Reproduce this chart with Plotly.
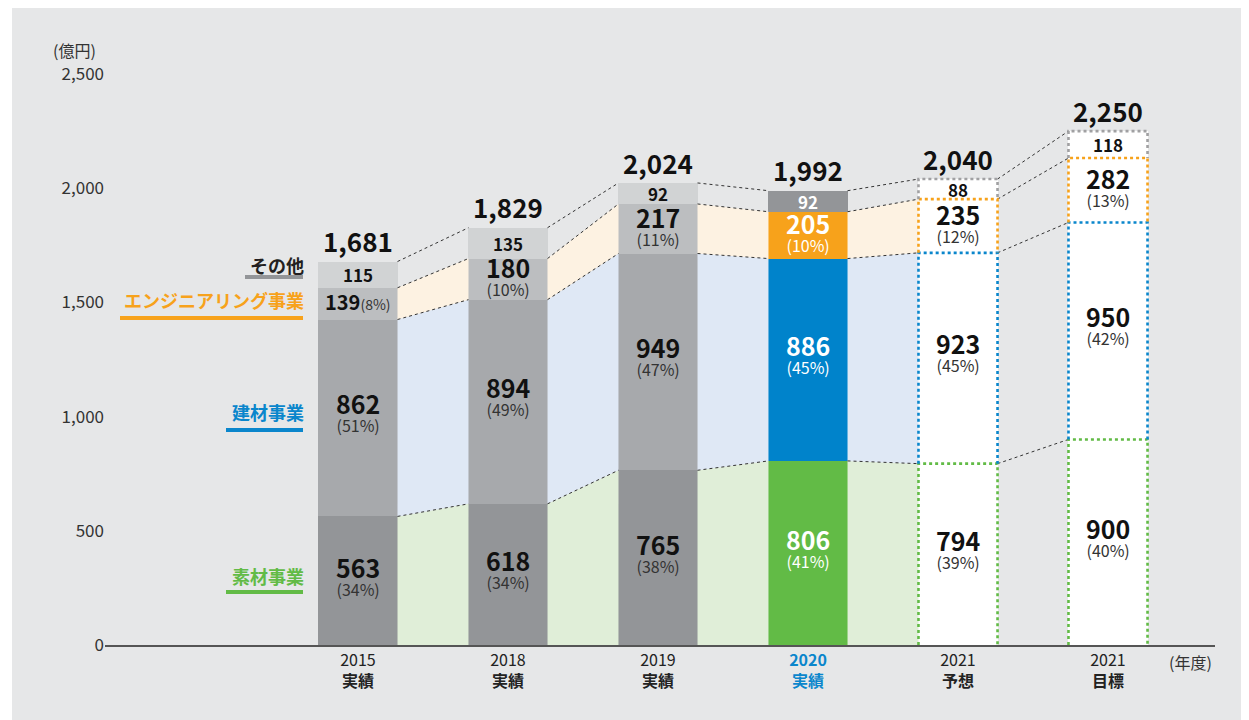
import plotly.graph_objects as go

# ---------------- data ----------------
years = ["2015", "2018", "2019", "2020", "2021", "2021"]
kinds = ["実績", "実績", "実績", "実績", "予想", "目標"]
sozai = [563, 618, 765, 806, 794, 900]          # 素材事業
kenzai = [862, 894, 949, 886, 923, 950]         # 建材事業
engi = [139, 180, 217, 205, 235, 282]           # エンジニアリング事業
other = [115, 135, 92, 92, 88, 118]             # その他
totals = [1681, 1829, 2024, 1992, 2040, 2250]
sozai_pct = [34, 34, 38, 41, 39, 40]
kenzai_pct = [51, 49, 47, 45, 45, 42]
engi_pct = [8, 10, 11, 10, 12, 13]
bar_type = ["past", "past", "past", "current", "plan", "plan"]
ytick_vals = [0, 500, 1000, 1500, 2000, 2500]
ytick_text = ["0", "500", "1,000", "1,500", "2,000", "2,500"]

# ---------------- style ----------------
FONT = "Noto Sans CJK JP"
PANEL = "#e6e7e8"
seg_names = ["素材事業", "建材事業", "エンジニアリング事業", "その他"]
seg_vals = [sozai, kenzai, engi, other]
gray_cols = ["#939598", "#a7a9ac", "#bcbec0", "#d1d3d4"]
main_cols = ["#62bb46", "#0083cb", "#f7a21b", "#939598"]
dot_cols = ["#62bb46", "#0a86cc", "#f7a21b", "#a0a0a2"]
band_cols = ["#e0eed8", "#dfe8f5", "#fdf2e2"]
label_shift = [6, 7, 4]
W = 0.527
xs = list(range(len(years)))

# page body has an 8px margin; geometry below is in screen pixels
OFF = 8
FW, FH = 1249 - OFF, 720 - OFF
L, R = 105 - OFF, 1249 - 1215
T, B = 74 - OFF, 720 - 645
PW, PH = FW - L - R, FH - T - B


def px(x):
    return (x - OFF - L) / PW


def py(y):
    return (FH - B - (y - OFF)) / PH


def seg_color(i, s):
    t = bar_type[i]
    if t == "past":
        return gray_cols[s]
    if t == "current":
        return main_cols[s]
    return "#ffffff"


# cumulative bottoms/tops
bottoms, tops = [], []
for s in range(4):
    b = [sum(seg_vals[k][i] for k in range(s)) for i in xs]
    bottoms.append(b)
    tops.append([b[i] + seg_vals[s][i] for i in xs])

fig = go.Figure()

# bands between bars
for g in range(len(xs) - 2):
    x0, x1 = xs[g] + W / 2, xs[g + 1] - W / 2
    for s in range(3):
        fig.add_trace(go.Scatter(
            x=[x0, x1, x1, x0, x0],
            y=[bottoms[s][g], bottoms[s][g + 1], tops[s][g + 1], tops[s][g], bottoms[s][g]],
            fill="toself", fillcolor=band_cols[s], mode="none",
            hoverinfo="skip", showlegend=False))

# bars
for s in range(4):
    fig.add_trace(go.Bar(
        x=xs, y=seg_vals[s], width=W, name=seg_names[s],
        marker=dict(color=[seg_color(i, s) for i in xs], line=dict(width=0)),
        showlegend=False, hoverinfo="skip"))

# dotted connector lines
for g in range(len(xs) - 1):
    x0, x1 = xs[g] + W / 2, xs[g + 1] - W / 2
    for s in range(4):
        fig.add_trace(go.Scatter(
            x=[x0, x1], y=[tops[s][g], tops[s][g + 1]], mode="lines",
            line=dict(color="#333333", width=1, dash="dot"),
            hoverinfo="skip", showlegend=False))

shapes = []
# gray panel background
shapes.append(dict(type="rect", xref="paper", yref="paper", layer="below",
                   x0=px(12), x1=px(1249), y0=py(720), y1=py(8),
                   fillcolor=PANEL, line=dict(width=0)))

# dotted borders for plan bars
for i in xs:
    if bar_type[i] != "plan":
        continue
    x0, x1 = xs[i] - W / 2, xs[i] + W / 2
    for s in range(4):
        y0, y1 = bottoms[s][i], tops[s][i]
        shapes.append(dict(type="path", xref="x", yref="y",
                           path=f"M {x0},{y0} L {x0},{y1} L {x1},{y1} L {x1},{y0}",
                           line=dict(color=dot_cols[s], width=2.6, dash="dot")))

# legend labels on the left with underline bars
legend_items = [
    ("その他", "#231f20", 265, 245, 277, "#939598"),
    ("エンジニアリング事業", "#f7a21b", 300, 120, 318, "#f7a21b"),
    ("建材事業", "#0a86cc", 412, 226, 430, "#0a86cc"),
    ("素材事業", "#62bb46", 576, 226, 592, "#62bb46"),
]
annotations = []
for txt, col, ty, ux0, uy, ucol in legend_items:
    annotations.append(dict(text=f"<b>{txt}</b>", xref="paper", yref="paper",
                            x=px(305), y=py(ty), xanchor="right", yanchor="middle",
                            showarrow=False, borderpad=0,
                            font=dict(family=FONT, size=18, color=col)))
    shapes.append(dict(type="rect", xref="paper", yref="paper",
                       x0=px(ux0), x1=px(303), y0=py(uy + 2), y1=py(uy - 2),
                       fillcolor=ucol, line=dict(width=0)))

# value labels
pcts = [sozai_pct, kenzai_pct, engi_pct]
for i in xs:
    t = bar_type[i]
    vcol = "#ffffff" if t == "current" else "#111111"
    pcol = "#ffffff" if t == "current" else "#333333"
    for s in range(3):
        mid = (bottoms[s][i] + tops[s][i]) / 2
        if s == 2 and seg_vals[s][i] < 150:
            annotations.append(dict(
                text=f"<b>{seg_vals[s][i]}</b><span style='font-size:14px;color:{pcol}'>({pcts[s][i]}%)</span>",
                x=xs[i], y=mid, xref="x", yref="y", showarrow=False, borderpad=0, yshift=2,
                font=dict(family=FONT, size=20, color=vcol)))
            continue
        annotations.append(dict(
            text=(f"<span style='font-size:25px;color:{vcol}'><b>{seg_vals[s][i]}</b></span>"
                  f"<br><span style='font-size:16px'>({pcts[s][i]}%)</span>"),
            x=xs[i], y=mid, xref="x", yref="y", showarrow=False,
            yshift=label_shift[s], borderpad=0,
            font=dict(family=FONT, size=14, color=pcol)))
    mid = (bottoms[3][i] + tops[3][i]) / 2
    annotations.append(dict(text=f"<b>{other[i]}</b>", x=xs[i], y=mid,
                            xref="x", yref="y", showarrow=False, borderpad=0,
                            font=dict(family=FONT, size=17, color=vcol)))
    annotations.append(dict(text=f"<b>{totals[i]:,}</b>", x=xs[i], y=max(tops[3][i], totals[i]),
                            xref="x", yref="y", showarrow=False, yanchor="bottom", yshift=1,
                            borderpad=0, font=dict(family=FONT, size=26, color="#111111")))

# axis unit labels
annotations.append(dict(text="(億円)", xref="paper", yref="paper", x=px(51), y=py(50),
                        xanchor="left", yanchor="middle", showarrow=False,
                        font=dict(family=FONT, size=16, color="#333333")))
annotations.append(dict(text="(年度)", xref="paper", yref="paper", x=px(1167), y=py(662),
                        xanchor="left", yanchor="middle", showarrow=False,
                        font=dict(family=FONT, size=16, color="#333333")))

ticktext = []
for i in xs:
    if bar_type[i] == "current":
        ticktext.append(f"<span style='color:#0a86cc'><b>{years[i]}<br>{kinds[i]}</b></span>")
    else:
        ticktext.append(f"{years[i]}<br><b>{kinds[i]}</b>")

fig.update_layout(
    barmode="stack",
    width=FW, height=FH,
    margin=dict(l=L, r=R, t=T, b=B),
    paper_bgcolor="#ffffff",
    plot_bgcolor="rgba(0,0,0,0)",
    font=dict(family=FONT, size=16, color="#222222"),
    shapes=shapes,
    annotations=annotations,
    xaxis=dict(range=[-(358 - 105) / 150, (1215 - 358) / 150],
               tickvals=xs, ticktext=ticktext, showgrid=False, zeroline=False,
               showline=True, linecolor="#555555", linewidth=1.5, ticks="",
               tickfont=dict(family=FONT, size=16, color="#222222"), fixedrange=True),
    yaxis=dict(range=[0, 2500], tickvals=ytick_vals, ticktext=ytick_text,
               showgrid=False, zeroline=False, showline=False, ticks="",
               tickfont=dict(family=FONT, size=17, color="#333333"), fixedrange=True),
    bargap=0,
)

fig.write_html("out.html")
